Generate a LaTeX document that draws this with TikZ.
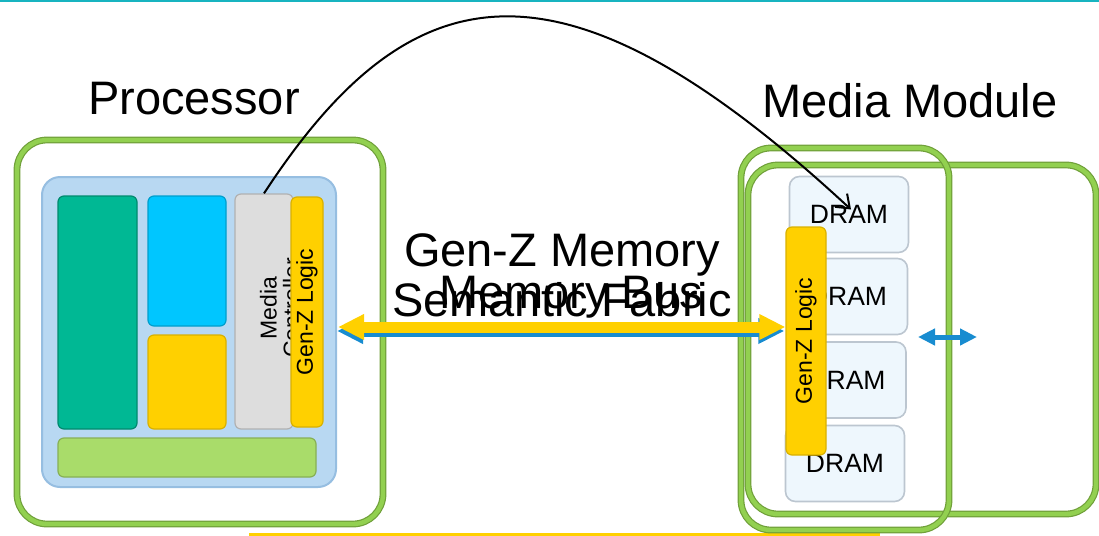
\documentclass[tikz,border=0pt]{standalone}
\usepackage{fontspec}
\setmainfont{Liberation Sans}
\usepackage{graphicx}
\usetikzlibrary{arrows.meta,positioning}

\definecolor{topline}{RGB}{24,180,192}
\definecolor{framegreen}{RGB}{146,208,80}
\definecolor{framedark}{RGB}{112,160,58}
\definecolor{chipblue}{RGB}{184,216,242}
\definecolor{chipedge}{RGB}{150,190,225}
\definecolor{coreteal}{RGB}{0,184,148}
\definecolor{corecyan}{RGB}{0,198,255}
\definecolor{genzyellow}{RGB}{255,208,0}
\definecolor{ctlgrey}{RGB}{221,221,221}
\definecolor{bargreen}{RGB}{169,220,106}
\definecolor{dramfill}{RGB}{238,247,253}
\definecolor{dramedge}{RGB}{188,198,208}
\definecolor{linkblue}{RGB}{24,140,208}

\begin{document}
\begin{tikzpicture}[x=0.5pt, y=-0.5pt,
    frame/.style={draw=framedark, double=framegreen, line width=0.6pt, double distance=2.2pt, rounded corners=15pt},
    chip/.style={fill=chipblue, draw=chipedge, line width=1pt, rounded corners=9pt},
    block/.style={rounded corners=3pt, line width=0.6pt, inner sep=0pt},
    genz/.style={block, fill=genzyellow, draw=genzyellow!85!black, font=\fontsize{11.5}{12}\selectfont},
    dram/.style={fill=dramfill, draw=dramedge, line width=0.8pt, rounded corners=5pt, minimum width=59.5pt, minimum height=38pt, font=\fontsize{13.25}{14}\selectfont},
    big/.style={font=\fontsize{23.5}{25}\selectfont},
    bus/.style={line width=5.5pt, {Triangle[width=12pt,length=13pt]}-{Triangle[width=12pt,length=13pt]}},
    link/.style={draw=linkblue, line width=2.5pt, {Triangle[width=8pt,length=8.5pt]}-{Triangle[width=8pt,length=8.5pt]}},
    curve/.style={line width=1pt, -{Straight Barb[length=6pt,width=9pt]}}]
    \useasboundingbox (0,0) rectangle (1099,536);
    \fill[topline] (0,0) rectangle (1099,2);
    \fill[genzyellow] (249,533) rectangle (880,536);

    % processor side
    \node[frame, minimum width=183pt, minimum height=192pt] at (200,332)(proc){};
    \node[big, anchor=base] at (194,114)(proclabel){Processor};
    \node[chip, minimum width=147pt, minimum height=155pt] at (189,332)(chip){};
    \node[block, fill=coreteal, draw=coreteal!75!black, minimum width=39.5pt, minimum height=116.5pt] at (97.5,312.5)(core1){};
    \node[block, fill=corecyan, draw=corecyan!80!black, minimum width=39pt, minimum height=65pt] at (187,261)(core2){};
    \node[block, fill=genzyellow, draw=genzyellow!85!black, minimum width=39pt, minimum height=47pt] at (187,382)(core3){};
    \node[block, fill=bargreen, draw=bargreen!80!black, minimum width=129pt, minimum height=19.5pt] at (187,457.5)(cache){};
    \node[block, fill=ctlgrey, draw=ctlgrey!80!black, minimum width=29pt, minimum height=117.5pt] at (264,311.5)(mctl){};
    \node[rotate=90, align=center, font=\fontsize{11.5}{11.5}\selectfont] at (280,308)(mctltext){Media\\Controller};
    \node[genz, minimum width=16pt, minimum height=115pt] at (307,312)(genzl){\rotatebox{90}{Gen-Z Logic}};

    % media module side
    \node[frame, minimum width=174pt, minimum height=174.5pt] at (922,339.5)(module){};
    \node[frame, minimum width=104pt, minimum height=191pt] at (845,339)(modback){};
    \node[big, anchor=base] at (910,117)(modlabel){Media Module};
    \node[dram] at (849,214.5)(dram1){DRAM};
    \node[dram] at (848,296.5)(dram2){DRAM};
    \node[dram] at (846.5,380)(dram3){DRAM};
    \node[dram] at (845,463.5)(dram4){DRAM};
    \node[genz, minimum width=20pt, minimum height=114pt] at (806,341)(genzr){\rotatebox{90}{Gen-Z Logic}};

    \coordinate (linkL) at (918,337);
    \coordinate (linkR) at (977,337);
    \draw[link] (linkL) -- (linkR);

    % fabric between the two
    \path (chip.east) ++(1,-5) coordinate (busL);
    \draw[bus, draw=linkblue, fill=linkblue, transform canvas={xshift=-0.5pt, yshift=-2pt}] (busL) -- (busL -| genzr.west);
    \draw[bus, draw=genzyellow, fill=genzyellow] (busL) -- (busL -| genzr.west);
    \node[big, align=center] at (562,275)(fabric){Gen-Z Memory\\Semantic Fabric};
    \node[big, anchor=base] at (571,308)(busname){Memory Bus};

    \draw[curve] (mctl.north) .. controls (410,-30) and (560,-60) .. ([shift={(2,-5)}]dram1.center);
\end{tikzpicture}
\end{document}
